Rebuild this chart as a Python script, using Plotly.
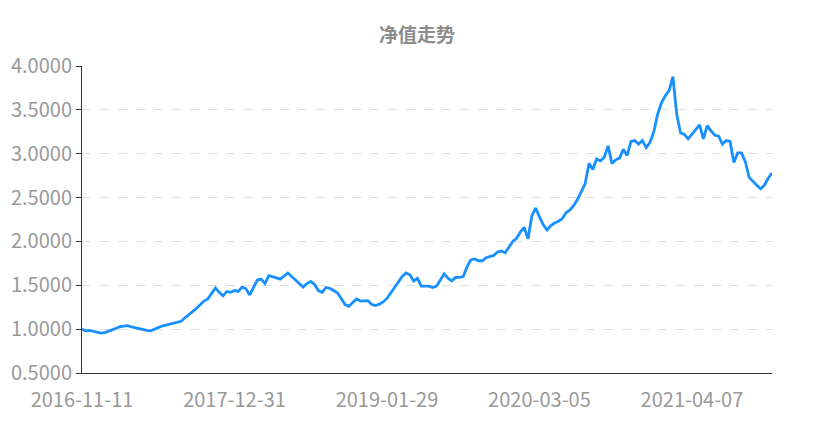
import plotly.graph_objects as go

# 净值, evenly spaced along the category axis
nav = [
    1.00, 0.98, 0.985, 0.975, 0.97, 0.955, 0.96, 0.975, 0.99, 1.01,
    1.03, 1.035, 1.04, 1.025, 1.015, 1.00, 0.995, 0.985, 0.98, 1.00,
    1.02, 1.035, 1.045, 1.055, 1.065, 1.075, 1.09, 1.13, 1.17, 1.20,
    1.235, 1.28, 1.32, 1.345, 1.41, 1.47, 1.42, 1.38, 1.43, 1.42,
    1.44, 1.43, 1.48, 1.46, 1.39, 1.48, 1.56, 1.57, 1.52, 1.61,
    1.60, 1.585, 1.57, 1.61, 1.64, 1.60, 1.565, 1.52, 1.48, 1.52,
    1.545, 1.51, 1.44, 1.42, 1.475, 1.465, 1.44, 1.415, 1.35, 1.28,
    1.26, 1.30, 1.345, 1.32, 1.32, 1.325, 1.28, 1.27, 1.285, 1.31,
    1.35, 1.41, 1.48, 1.54, 1.60, 1.64, 1.62, 1.55, 1.58, 1.49,
    1.49, 1.49, 1.475, 1.49, 1.56, 1.63, 1.58, 1.55, 1.59, 1.59,
    1.60, 1.71, 1.79, 1.80, 1.78, 1.78, 1.815, 1.83, 1.84, 1.88,
    1.89, 1.87, 1.94, 2.00, 2.035, 2.11, 2.16, 2.03, 2.29, 2.38,
    2.28, 2.19, 2.13, 2.18, 2.21, 2.23, 2.26, 2.33, 2.36, 2.41,
    2.48, 2.57, 2.66, 2.89, 2.82, 2.94, 2.92, 2.96, 3.09, 2.89,
    2.93, 2.95, 3.05, 2.98, 3.14, 3.15, 3.11, 3.15, 3.07, 3.13,
    3.25, 3.45, 3.58, 3.66, 3.72, 3.88, 3.45, 3.24, 3.22, 3.17,
    3.22, 3.27, 3.33, 3.17, 3.32, 3.26, 3.21, 3.20, 3.11, 3.15,
    3.14, 2.90, 3.01, 3.01, 2.91, 2.73, 2.68, 2.64, 2.60, 2.64,
    2.72, 2.78,
]
date_labels = ['2016-11-11', '2017-12-31', '2019-01-29', '2020-03-05', '2021-04-07']
label_step = 40

idx = list(range(len(nav)))

fig = go.Figure()
fig.add_trace(go.Scatter(
    x=idx,
    y=nav,
    mode='lines',
    line=dict(color='#1890ff', width=2.8),
    name='净值',
    hovertemplate='%{y:.4f}<extra></extra>',
))

# the page body adds 8px, so margins are trimmed by that much
fig.update_layout(
    width=818,
    height=423,
    margin=dict(l=74, r=54, t=58, b=58, autoexpand=False),
    paper_bgcolor='white',
    plot_bgcolor='white',
    showlegend=False,
    font=dict(family='Noto Sans CJK SC, sans-serif', color='#999999'),
    title=dict(
        text='<b>净值走势</b>',
        x=0.5, xanchor='center',
        y=0.935, yanchor='middle',
        font=dict(size=19, color='#8c8c8c'),
    ),
)
fig.update_xaxes(
    range=[0, len(nav) - 1],
    tickmode='array',
    tickvals=[i * label_step for i in range(len(date_labels))],
    ticktext=date_labels,
    tickfont=dict(size=20, color='#999999'),
    ticklabelstandoff=9,
    showgrid=False,
    zeroline=False,
    showline=True,
    linecolor='#333333',
    linewidth=1,
    ticks='',
    automargin=False,
)
fig.update_yaxes(
    range=[0.5, 4.0],
    tickvals=[0.5, 1.0, 1.5, 2.0, 2.5, 3.0, 3.5, 4.0],
    tickformat='.4f',
    tickfont=dict(size=20, color='#999999'),
    showgrid=True,
    gridcolor='#dddddd',
    griddash='dash',
    zeroline=False,
    showline=True,
    linecolor='#333333',
    linewidth=1,
    ticks='outside',
    ticklen=5,
    tickcolor='#333333',
    automargin=False,
)

fig.write_html('out.html')
